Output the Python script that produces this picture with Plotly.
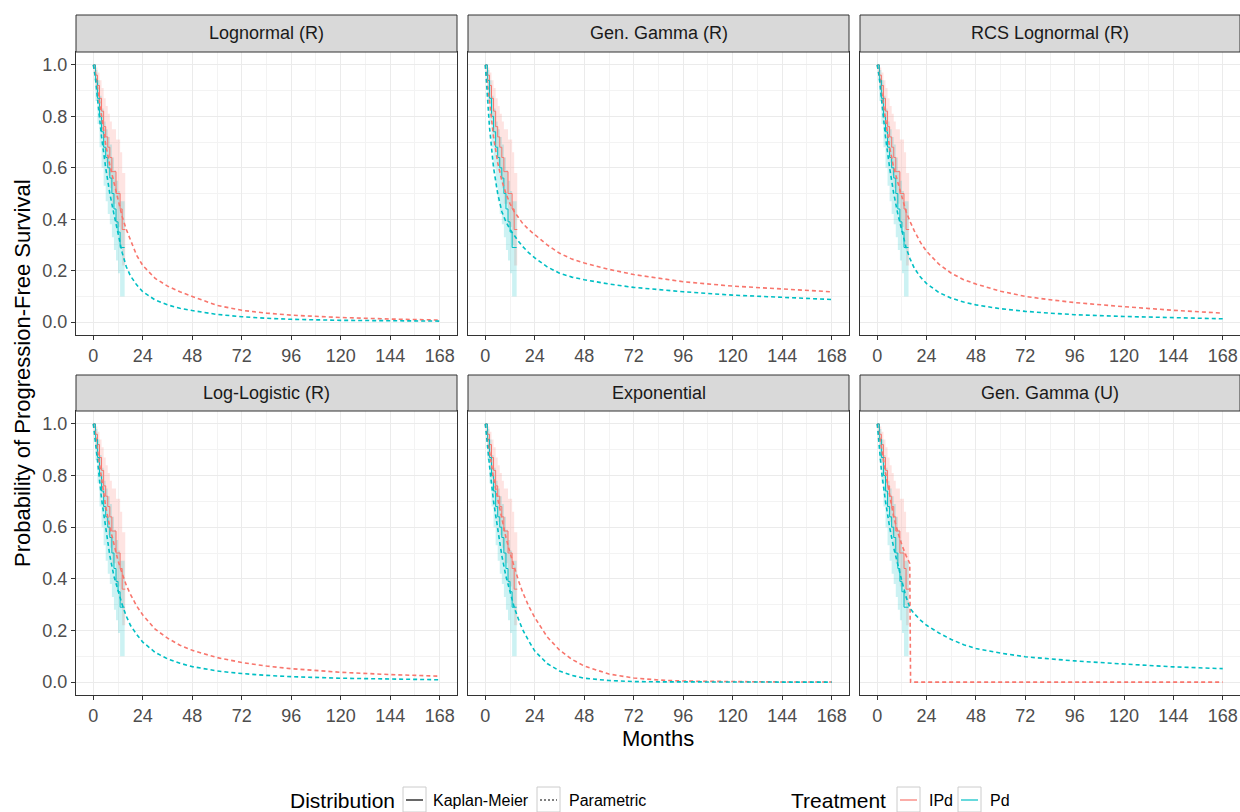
import plotly.graph_objects as go

W, H = 1240, 812
FONT = "Liberation Sans, Arial, sans-serif"

# ---------------- data ----------------
panel_titles = ["Lognormal (R)", "Gen. Gamma (R)", "RCS Lognormal (R)",
                "Log-Logistic (R)", "Exponential", "Gen. Gamma (U)"]
x_ticks = [0, 24, 48, 72, 96, 120, 144, 168]
x_minor = [12, 36, 60, 84, 108, 132, 156]
y_ticks = [0.0, 0.2, 0.4, 0.6, 0.8, 1.0]
y_tick_text = ["0.0", "0.2", "0.4", "0.6", "0.8", "1.0"]
y_minor = [0.1, 0.3, 0.5, 0.7, 0.9]

# Kaplan-Meier (same observed data in every panel)
km_time_ipd = [0, 1, 2, 3, 4, 5, 6, 7, 8, 9, 10, 11, 12, 13, 14, 15.5]
km_surv_ipd = [1.0, 0.96, 0.92, 0.87, 0.82, 0.76, 0.72, 0.68, 0.64, 0.585, 0.585, 0.50, 0.50, 0.44, 0.36, 0.36]
km_low_ipd = [1.0, 0.92, 0.85, 0.79, 0.73, 0.67, 0.62, 0.57, 0.52, 0.46, 0.46, 0.37, 0.37, 0.30, 0.22, 0.22]
km_up_ipd = [1.0, 0.99, 0.97, 0.94, 0.91, 0.87, 0.84, 0.81, 0.78, 0.75, 0.75, 0.71, 0.71, 0.66, 0.58, 0.58]

km_time_pd = [0, 1, 2, 3, 4, 5, 6, 7, 8, 9, 10, 11, 12, 13, 15.2]
km_surv_pd = [1.0, 0.94, 0.87, 0.80, 0.74, 0.68, 0.64, 0.60, 0.56, 0.50, 0.44, 0.39, 0.35, 0.29, 0.29]
km_low_pd = [1.0, 0.86, 0.77, 0.68, 0.60, 0.53, 0.47, 0.42, 0.38, 0.33, 0.28, 0.24, 0.19, 0.10, 0.10]
km_up_pd = [1.0, 0.98, 0.94, 0.88, 0.83, 0.78, 0.75, 0.72, 0.69, 0.64, 0.59, 0.55, 0.51, 0.47, 0.47]

# Parametric fits
par_time = [0, 1, 2, 4, 6, 8, 10, 12, 14, 16, 18, 21, 24, 30, 36, 42, 48, 60, 72, 84, 96, 120, 144, 168]

lognormal_ipd = [1.0, 0.97, 0.91, 0.79, 0.69, 0.61, 0.54, 0.47, 0.41, 0.36, 0.32, 0.26, 0.22, 0.17, 0.14, 0.118, 0.10, 0.065, 0.046, 0.035, 0.027, 0.018, 0.012, 0.008]
lognormal_pd = [1.0, 0.95, 0.87, 0.72, 0.60, 0.50, 0.42, 0.34, 0.27, 0.215, 0.18, 0.145, 0.118, 0.086, 0.067, 0.054, 0.045, 0.030, 0.021, 0.015, 0.011, 0.007, 0.005, 0.004]

gengamma_r_ipd = [1.0, 0.93, 0.84, 0.72, 0.62, 0.55, 0.50, 0.46, 0.43, 0.405, 0.385, 0.36, 0.34, 0.30, 0.268, 0.245, 0.23, 0.205, 0.185, 0.17, 0.157, 0.14, 0.128, 0.118]
gengamma_r_pd = [1.0, 0.88, 0.76, 0.60, 0.50, 0.43, 0.39, 0.36, 0.335, 0.315, 0.295, 0.27, 0.25, 0.215, 0.19, 0.175, 0.165, 0.148, 0.135, 0.126, 0.118, 0.105, 0.096, 0.088]

rcs_lognormal_ipd = [1.0, 0.96, 0.90, 0.78, 0.68, 0.60, 0.54, 0.48, 0.43, 0.39, 0.355, 0.31, 0.275, 0.225, 0.19, 0.165, 0.148, 0.12, 0.10, 0.087, 0.076, 0.06, 0.046, 0.035]
rcs_lognormal_pd = [1.0, 0.95, 0.87, 0.72, 0.60, 0.50, 0.42, 0.35, 0.29, 0.245, 0.21, 0.175, 0.15, 0.115, 0.093, 0.078, 0.067, 0.052, 0.042, 0.035, 0.029, 0.022, 0.017, 0.013]

loglogistic_ipd = [1.0, 0.96, 0.90, 0.78, 0.68, 0.60, 0.53, 0.47, 0.42, 0.375, 0.34, 0.295, 0.26, 0.205, 0.17, 0.143, 0.123, 0.095, 0.076, 0.062, 0.052, 0.038, 0.029, 0.023]
loglogistic_pd = [1.0, 0.94, 0.86, 0.71, 0.59, 0.49, 0.41, 0.35, 0.30, 0.255, 0.22, 0.185, 0.155, 0.115, 0.09, 0.073, 0.06, 0.043, 0.033, 0.026, 0.021, 0.015, 0.011, 0.009]

exponential_ipd = [1.0, 0.945, 0.89, 0.79, 0.71, 0.63, 0.56, 0.50, 0.445, 0.395, 0.35, 0.295, 0.25, 0.175, 0.124, 0.088, 0.062, 0.031, 0.016, 0.008, 0.004, 0.001, 0.0003, 0.0001]
exponential_pd = [1.0, 0.915, 0.84, 0.70, 0.59, 0.49, 0.41, 0.35, 0.29, 0.245, 0.205, 0.16, 0.12, 0.072, 0.043, 0.026, 0.015, 0.006, 0.002, 0.001, 0.0003, 0.0001, 0.0, 0.0]

gengamma_u_pd = [1.0, 0.90, 0.82, 0.70, 0.60, 0.52, 0.45, 0.39, 0.33, 0.285, 0.265, 0.24, 0.22, 0.19, 0.165, 0.145, 0.13, 0.112, 0.098, 0.089, 0.082, 0.07, 0.059, 0.052]
gengamma_u_ipd_time = [0, 1, 2, 4, 6, 8, 10, 12, 14, 15, 15.8, 16.2, 17, 24, 48, 96, 168]
gengamma_u_ipd = [1.0, 0.96, 0.91, 0.81, 0.72, 0.64, 0.58, 0.53, 0.49, 0.47, 0.46, 0.0, 0.0, 0.0, 0.0, 0.0, 0.0]

par_ipd = [(par_time, lognormal_ipd), (par_time, gengamma_r_ipd), (par_time, rcs_lognormal_ipd),
           (par_time, loglogistic_ipd), (par_time, exponential_ipd), (gengamma_u_ipd_time, gengamma_u_ipd)]
par_pd = [lognormal_pd, gengamma_r_pd, rcs_lognormal_pd, loglogistic_pd, exponential_pd, gengamma_u_pd]

legend_distribution = ["Kaplan-Meier", "Parametric"]
legend_treatment = ["IPd", "Pd"]

# ---------------- styling ----------------
C_IPD = "#F8766D"
C_PD = "#00BFC4"
F_IPD = "rgba(248,118,109,0.2)"
F_PD = "rgba(0,191,196,0.2)"
DASH = "4px,3px"

col_px = [(76, 457), (468, 849), (860, 1240)]
row_px = [(52, 335), (411, 695)]
strip_px = [(15, 52), (375, 411)]


def step_path(t, s):
    xs, ys = [], []
    for k in range(len(t)):
        xs.append(t[k]); ys.append(s[k])
        if k + 1 < len(t):
            xs.append(t[k + 1]); ys.append(s[k])
    return xs, ys


fig = go.Figure()
layout = {}
shapes = []
annotations = []

for i, title in enumerate(panel_titles):
    r, c = divmod(i, 3)
    n = "" if i == 0 else str(i + 1)
    xa, ya = "x" + n, "y" + n
    x0, x1 = col_px[c]
    y0, y1 = row_px[r]

    # confidence ribbons (step-shaped polygons)
    for t, lo, up, fc in [(km_time_ipd, km_low_ipd, km_up_ipd, F_IPD),
                          (km_time_pd, km_low_pd, km_up_pd, F_PD)]:
        ux, uy = step_path(t, up)
        lx, ly = step_path(t, lo)
        fig.add_trace(go.Scatter(x=ux + lx[::-1], y=uy + ly[::-1], mode="lines",
                                 line=dict(width=0), fill="toself", fillcolor=fc,
                                 showlegend=False, hoverinfo="skip", xaxis=xa, yaxis=ya))
    # KM lines
    for t, s, col in [(km_time_ipd, km_surv_ipd, C_IPD), (km_time_pd, km_surv_pd, C_PD)]:
        fig.add_trace(go.Scatter(x=t, y=s, mode="lines", line=dict(width=1, color=col, shape="hv"),
                                 showlegend=False, xaxis=xa, yaxis=ya))
    # parametric
    tp, sp = par_ipd[i]
    fig.add_trace(go.Scatter(x=tp, y=sp, mode="lines", line=dict(width=1.6, color=C_IPD, dash=DASH),
                             showlegend=False, xaxis=xa, yaxis=ya))
    fig.add_trace(go.Scatter(x=par_time, y=par_pd[i], mode="lines",
                             line=dict(width=1.6, color=C_PD, dash=DASH),
                             showlegend=False, xaxis=xa, yaxis=ya))

    common = dict(showline=True, mirror=True, linecolor="#333333", linewidth=1,
                  showgrid=True, gridcolor="#EBEBEB", gridwidth=1, zeroline=False,
                  tickfont=dict(family=FONT, size=18, color="#4D4D4D"))
    layout["xaxis" + n] = dict(
        domain=[x0 / W, x1 / W], anchor=ya, range=[-8.4, 176.4],
        tickmode="array", tickvals=x_ticks, ticktext=[str(v) for v in x_ticks],
        ticks="outside", ticklen=4, tickcolor="#333333",
        minor=dict(tickmode="array", tickvals=x_minor, showgrid=True, gridcolor="#F3F3F3", gridwidth=1),
        **common)
    layout["yaxis" + n] = dict(
        domain=[1 - y1 / H, 1 - y0 / H], anchor=xa, range=[-0.05, 1.05],
        tickmode="array", tickvals=y_ticks, ticktext=y_tick_text,
        ticks="outside" if c == 0 else "", ticklen=4, tickcolor="#333333",
        showticklabels=(c == 0),
        minor=dict(tickmode="array", tickvals=y_minor, showgrid=True, gridcolor="#F3F3F3", gridwidth=1),
        **common)

    s0, s1 = strip_px[r]
    shapes.append(dict(type="rect", xref="paper", yref="paper",
                       x0=x0 / W, x1=x1 / W, y0=1 - s1 / H, y1=1 - s0 / H,
                       fillcolor="#D9D9D9", line=dict(color="#333333", width=1), layer="above"))
    annotations.append(dict(text=title, x=(x0 + x1) / 2 / W, y=1 - (s0 + s1) / 2 / H,
                            xref="paper", yref="paper", showarrow=False,
                            xanchor="center", yanchor="middle",
                            font=dict(family=FONT, size=18, color="#1A1A1A")))

# axis titles
annotations.append(dict(text="Months", x=658 / W, y=1 - 738 / H, xref="paper", yref="paper",
                        showarrow=False, xanchor="center", yanchor="middle",
                        font=dict(family=FONT, size=22, color="black")))
annotations.append(dict(text="Probability of Progression-Free Survival", x=22 / W, y=1 - 373 / H,
                        xref="paper", yref="paper", showarrow=False, textangle=-90,
                        xanchor="center", yanchor="middle",
                        font=dict(family=FONT, size=22, color="black")))

# ---------------- legend (ggplot-style, drawn as keys + text) ----------------
LEG_Y = 800          # text centre (px from top)
BOX_T, BOX_B = 787, 812


def px_x(v):
    return v / W


def px_y(v):
    return 1 - v / H


def add_text(txt, x_left, size):
    annotations.append(dict(text=txt, x=px_x(x_left), y=px_y(LEG_Y), xref="paper", yref="paper",
                            showarrow=False, xanchor="left", yanchor="middle",
                            font=dict(family=FONT, size=size, color="black")))


def add_key(x_left, color, dash):
    shapes.append(dict(type="rect", xref="paper", yref="paper",
                       x0=px_x(x_left), x1=px_x(x_left + 23), y0=px_y(BOX_B), y1=px_y(BOX_T),
                       fillcolor="white", line=dict(color="#CCCCCC", width=1)))
    shapes.append(dict(type="line", xref="paper", yref="paper",
                       x0=px_x(x_left + 3), x1=px_x(x_left + 20), y0=px_y(LEG_Y), y1=px_y(LEG_Y),
                       line=dict(color=color, width=1.2, dash=dash)))


add_text("Distribution", 288, 21)
add_key(403, "black", "solid")
add_text(legend_distribution[0], 431, 16)
add_key(537, "black", "2px,2px")
add_text(legend_distribution[1], 567, 16)

add_text("Treatment", 789, 21)
add_key(897, C_IPD, "solid")
add_text(legend_treatment[0], 927, 16)
add_key(958, C_PD, "solid")
add_text(legend_treatment[1], 988, 16)

fig.update_layout(width=W, height=H, margin=dict(l=0, r=0, t=0, b=0),
                  paper_bgcolor="white", plot_bgcolor="white",
                  font=dict(family=FONT), shapes=shapes, annotations=annotations,
                  showlegend=False, **layout)

fig.write_html("out.html")
